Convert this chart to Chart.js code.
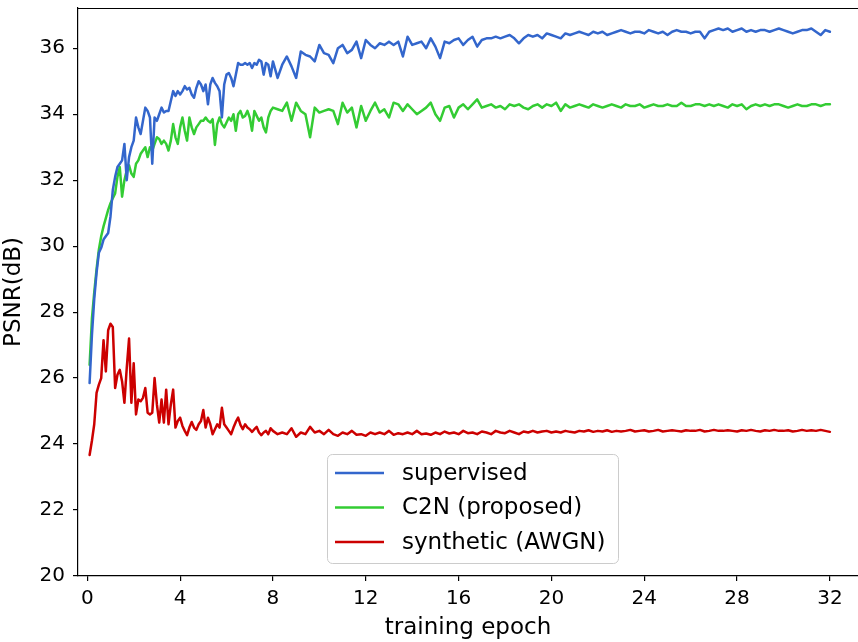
<!DOCTYPE html>
<html>
<head>
<meta charset="utf-8">
<script src="https://cdn.jsdelivr.net/npm/chart.js@4/dist/chart.umd.min.js"></script>
<style>
  html, body { margin: 0; padding: 0; background: #fff; overflow: hidden; }
  #grafico { display: block; }
</style>
</head>
<body>
<canvas id="grafico" width="858" height="642"></canvas>
<script>
// eixo x: 0.1..8.0 de 0.1 em 0.1, depois 8.2..32.0 de 0.2 em 0.2
var _epocas = [];
for (var i = 1; i <= 80; i++) _epocas.push(+(i / 10).toFixed(1));
for (var j = 1; j <= 120; j++) _epocas.push(+(8 + j * 0.2).toFixed(1));

var _xTicks = [0, 4, 8, 12, 16, 20, 24, 28, 32];
var _yTicks = [20, 22, 24, 26, 28, 30, 32, 34, 36];

var _supervised = [
    25.85, 27.3, 28.4, 29.2, 29.8, 29.95, 30.2, 30.3, 30.4, 30.9,
    31.7, 32.1, 32.4, 32.5, 32.6, 33.1, 32.0, 32.7, 33.0, 33.2,
    33.9, 33.6, 33.4, 33.8, 34.2, 34.1, 33.9, 32.5, 33.9, 33.8,
    34.0, 34.2, 34.05, 34.1, 34.1, 34.4, 34.7, 34.55, 34.7, 34.6,
    34.7, 34.85, 34.75, 34.8, 34.6, 34.5, 34.8, 35.0, 34.9, 34.7,
    34.9, 34.3, 34.9, 35.1, 34.95, 34.85, 34.7, 33.9, 34.9, 35.2,
    35.25, 35.1, 34.85, 35.2, 35.55, 35.5, 35.5, 35.55, 35.5, 35.55,
    35.4, 35.55, 35.5, 35.65, 35.6, 35.2, 35.55, 35.5, 35.15, 35.6,
    // 8.2 .. 32.0
    35.1, 35.5, 35.75, 35.45, 35.1, 35.9, 35.8, 35.75, 35.6, 36.1,
    35.85, 35.8, 35.55, 36.0, 36.1, 35.85, 35.95, 36.2, 35.7, 36.25,
    36.1, 36.0, 36.15, 36.1, 36.2, 36.1, 36.2, 35.75, 36.35, 36.1,
    36.15, 36.2, 36.0, 36.3, 36.05, 35.7, 36.2, 36.15, 36.25, 36.3,
    36.1, 36.25, 36.35, 36.05, 36.25, 36.3, 36.3, 36.35, 36.3, 36.35,
    36.4, 36.3, 36.15, 36.3, 36.4, 36.35, 36.4, 36.3, 36.45, 36.4,
    36.35, 36.3, 36.45, 36.4, 36.45, 36.5, 36.45, 36.4, 36.5, 36.45,
    36.5, 36.4, 36.45, 36.5, 36.55, 36.5, 36.45, 36.5, 36.5, 36.45,
    36.55, 36.5, 36.45, 36.5, 36.4, 36.5, 36.55, 36.5, 36.5, 36.45,
    36.5, 36.5, 36.3, 36.5, 36.55, 36.6, 36.55, 36.6, 36.5, 36.55,
    36.6, 36.5, 36.55, 36.5, 36.55, 36.55, 36.5, 36.55, 36.6, 36.55,
    36.5, 36.45, 36.5, 36.55, 36.55, 36.6, 36.5, 36.4, 36.55, 36.5
];

var _c2n = [
    26.4, 27.8, 28.6, 29.3, 29.9, 30.3, 30.6, 30.85, 31.1, 31.3,
    31.45, 31.6, 32.1, 32.4, 31.5, 32.0, 32.3, 32.45, 32.2, 32.1,
    32.5, 32.6, 32.8, 32.9, 33.0, 32.7, 33.0, 32.9, 33.1, 33.3,
    33.25, 33.1, 33.2, 33.1, 32.9, 33.2, 33.7, 33.3, 33.1, 33.6,
    33.9, 33.5, 33.2, 33.9, 33.6, 33.4, 33.6, 33.7, 33.8, 33.8,
    33.9, 33.8, 33.75, 33.85, 33.07, 33.7, 33.9, 33.7, 33.6, 33.75,
    33.9, 33.8, 34.0, 33.5, 34.0, 34.1, 33.9, 33.95, 34.1, 33.9,
    33.5, 34.1, 33.95, 33.8, 33.9, 33.6, 33.45, 33.9, 34.1, 34.2,
    // 8.2 .. 32.0
    34.15, 34.1, 34.35, 33.8, 34.35, 34.1, 34.0, 33.3, 34.2, 34.05,
    34.1, 34.15, 34.1, 33.7, 34.35, 34.05, 34.2, 33.6, 34.25, 33.8,
    34.1, 34.35, 34.05, 34.15, 33.9, 34.35, 34.3, 34.1, 34.3, 34.15,
    34.0, 34.1, 34.2, 34.35, 34.0, 33.8, 34.2, 34.25, 33.9, 34.2,
    34.3, 34.15, 34.3, 34.45, 34.2, 34.25, 34.3, 34.2, 34.25, 34.15,
    34.3, 34.25, 34.3, 34.2, 34.15, 34.25, 34.3, 34.2, 34.3, 34.25,
    34.35, 34.1, 34.3, 34.2, 34.25, 34.3, 34.25, 34.2, 34.3, 34.25,
    34.2, 34.25, 34.3, 34.25, 34.2, 34.3, 34.25, 34.25, 34.3, 34.2,
    34.25, 34.3, 34.25, 34.25, 34.3, 34.25, 34.25, 34.35, 34.25, 34.25,
    34.3, 34.3, 34.25, 34.3, 34.25, 34.3, 34.25, 34.2, 34.3, 34.25,
    34.3, 34.15, 34.25, 34.3, 34.25, 34.3, 34.25, 34.3, 34.3, 34.25,
    34.2, 34.25, 34.3, 34.25, 34.25, 34.3, 34.3, 34.25, 34.3, 34.3
];

var _synthetic = [
    23.67, 24.1, 24.6, 25.55, 25.8, 26.0, 27.15, 26.2, 27.45, 27.65,
    27.55, 25.7, 26.1, 26.25, 25.9, 25.25, 26.3, 27.2, 25.25, 26.45,
    24.9, 25.35, 25.3, 25.4, 25.7, 24.95, 24.9, 24.95, 26.0, 25.2,
    24.65, 25.35, 24.65, 25.65, 24.6, 25.2, 25.65, 24.5, 24.7, 24.8,
    24.55, 24.4, 24.27, 24.5, 24.67, 24.5, 24.43, 24.6, 24.7, 25.03,
    24.5, 24.8, 24.6, 24.3, 24.45, 24.6, 24.5, 25.1, 24.6, 24.5,
    24.4, 24.3, 24.5, 24.67, 24.8, 24.58, 24.45, 24.6, 24.5, 24.45,
    24.37, 24.45, 24.52, 24.35, 24.27, 24.35, 24.4, 24.3, 24.48, 24.4,
    // 8.2 .. 32.0
    24.3, 24.35, 24.3, 24.48, 24.22, 24.35, 24.3, 24.52, 24.35, 24.4,
    24.3, 24.43, 24.3, 24.25, 24.35, 24.3, 24.4, 24.28, 24.3, 24.25,
    24.35, 24.3, 24.35, 24.3, 24.4, 24.28, 24.33, 24.3, 24.35, 24.3,
    24.4, 24.3, 24.32, 24.28, 24.35, 24.3, 24.38, 24.32, 24.35, 24.3,
    24.4, 24.33, 24.35, 24.3, 24.38, 24.35, 24.3, 24.4, 24.35, 24.33,
    24.4, 24.35, 24.3, 24.38, 24.35, 24.4, 24.35, 24.38, 24.4, 24.35,
    24.38, 24.35, 24.4, 24.37, 24.35, 24.4, 24.38, 24.42, 24.37, 24.4,
    24.38, 24.42, 24.37, 24.4, 24.38, 24.4, 24.43, 24.38, 24.4, 24.42,
    24.38, 24.4, 24.43, 24.38, 24.4, 24.42, 24.4, 24.38, 24.42, 24.4,
    24.4, 24.43, 24.38, 24.4, 24.43, 24.4, 24.4, 24.42, 24.4, 24.38,
    24.42, 24.4, 24.43, 24.4, 24.38, 24.42, 24.4, 24.43, 24.4, 24.4,
    24.42, 24.38, 24.4, 24.43, 24.4, 24.42, 24.4, 24.43, 24.4, 24.37
];

var _fonte = "'DejaVu Sans', sans-serif";

function montaPontos(valores) {
    return valores.map(function (v, idx) { return { x: _epocas[idx], y: v }; });
}

// moldura de cima (estilo matplotlib); a direita fica fora da imagem
var molduraPlugin = {
    id: 'moldura',
    afterDraw: function (chart) {
        var a = chart.chartArea, ctx = chart.ctx;
        ctx.save();
        ctx.strokeStyle = '#000';
        ctx.lineWidth = 1.2;
        ctx.beginPath();
        ctx.moveTo(a.left, a.top + 0.5);
        ctx.lineTo(a.right + 2, a.top + 0.5);
        ctx.stroke();
        ctx.restore();
    }
};

// legenda dentro da area do grafico
var legendaPlugin = {
    id: 'legendaDentro',
    afterDraw: function (chart) {
        var ctx = chart.ctx;
        var x0 = 327, y0 = 454, w = 291, h = 109, r = 5;
        ctx.save();
        ctx.fillStyle = 'rgba(255,255,255,0.85)';
        ctx.strokeStyle = '#cccccc';
        ctx.lineWidth = 1;
        ctx.beginPath();
        ctx.roundRect(x0 + 0.5, y0 + 0.5, w, h, r);
        ctx.fill();
        ctx.stroke();
        ctx.font = "23px " + _fonte;
        ctx.textBaseline = 'middle';
        chart.data.datasets.forEach(function (ds, k) {
            var yl = 473 + k * 34.5;
            ctx.strokeStyle = ds.borderColor;
            ctx.lineWidth = 2.5;
            ctx.beginPath();
            ctx.moveTo(335, yl);
            ctx.lineTo(384, yl);
            ctx.stroke();
            ctx.fillStyle = '#000';
            ctx.fillText(ds.label, 402, yl + 1);
        });
        ctx.restore();
    }
};

new Chart(document.getElementById("grafico"), {
    type: 'line',
    data: {
        datasets: [
            { label: "supervised", data: montaPontos(_supervised), borderColor: "#3366CC", borderWidth: 2.5 },
            { label: "C2N (proposed)", data: montaPontos(_c2n), borderColor: "#33CC33", borderWidth: 2.5 },
            { label: "synthetic (AWGN)", data: montaPontos(_synthetic), borderColor: "#CC0000", borderWidth: 2.5 }
        ]
    },
    options: {
        responsive: false,
        animation: false,
        devicePixelRatio: 1,
        layout: { padding: { top: 8, right: 0, left: 0, bottom: 0 } },
        elements: { point: { radius: 0 }, line: { tension: 0, borderJoinStyle: 'round', borderCapStyle: 'round' } },
        plugins: { legend: { display: false }, tooltip: { enabled: false } },
        scales: {
            x: {
                type: 'linear',
                min: -0.4,
                max: 33.21,
                afterBuildTicks: function (s) { s.ticks = _xTicks.map(function (v) { return { value: v }; }); },
                afterFit: function (s) { s.height = 66; s.paddingLeft = 0; s.paddingRight = 0; },
                grid: { drawOnChartArea: false, drawTicks: true, tickLength: 5, color: '#000', lineWidth: 1.2 },
                border: { display: true, color: '#000', width: 1.2 },
                ticks: { color: '#000', font: { family: _fonte, size: 20 }, padding: 6, maxRotation: 0 },
                title: { display: true, text: 'training epoch', color: '#000', font: { family: _fonte, size: 23 }, padding: { top: 0, bottom: 0 } }
            },
            y: {
                min: 20,
                max: 37.22,
                afterBuildTicks: function (s) { s.ticks = _yTicks.map(function (v) { return { value: v }; }); },
                afterFit: function (s) { s.width = 78; s.paddingTop = 0; s.paddingBottom = 0; },
                grid: { drawOnChartArea: false, drawTicks: true, tickLength: 5, color: '#000', lineWidth: 1.2 },
                border: { display: true, color: '#000', width: 1.2 },
                ticks: { color: '#000', font: { family: _fonte, size: 20 }, padding: 8 },
                title: { display: true, text: 'PSNR(dB)', color: '#000', font: { family: _fonte, size: 23 }, padding: { top: 0, bottom: 2 } }
            }
        }
    },
    plugins: [molduraPlugin, legendaPlugin]
});
</script>
</body>
</html>
